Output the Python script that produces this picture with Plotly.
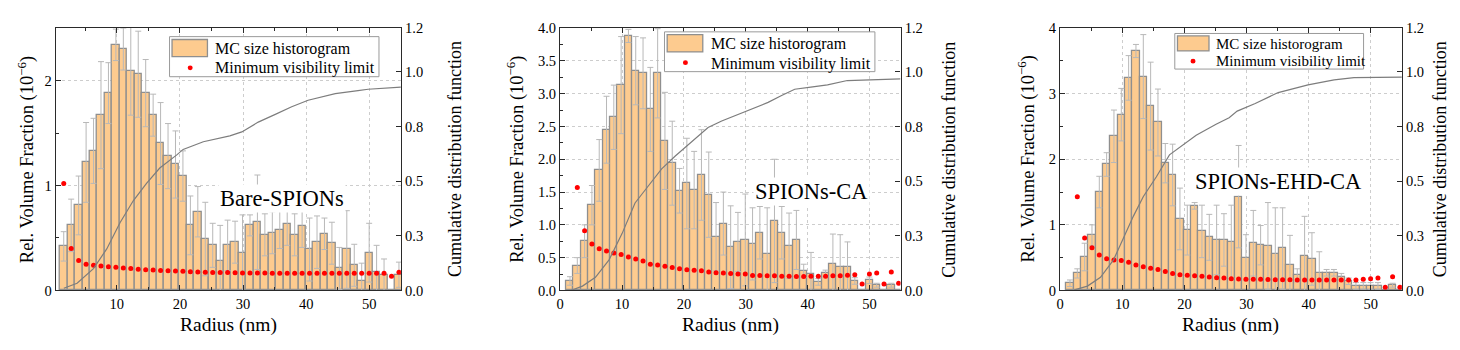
import plotly.graph_objects as go

# ---------------- data ----------------
radius = [1.59, 2.77, 3.95, 5.13, 6.31, 7.49, 8.67, 9.85, 11.03, 12.21, 13.39, 14.57,
          15.75, 16.93, 18.11, 19.29, 20.47, 21.65, 22.83, 24.01, 25.19, 26.37, 27.55,
          28.73, 29.91, 31.09, 32.27, 33.45, 34.63, 35.81, 36.99, 38.17, 39.35, 40.53,
          41.71, 42.89, 44.07, 45.25, 46.43, 47.61, 48.79, 49.97, 51.15, 52.33, 53.51, 54.69]

bare_vol = [0.42, 0.62, 0.81, 1.22, 1.33, 1.67, 1.88, 2.34, 2.30, 2.09, 2.06, 1.88, 1.67,
            1.40, 1.28, 1.20, 1.09, 0.62, 0.75, 0.49, 0.43, 0.28, 0.43, 0.46, 0.36, 0.62,
            0.65, 0.53, 0.55, 0.58, 0.63, 0.53, 0.61, 0.39, 0.46, 0.54, 0.45, 0.21, 0.39,
            0.24, 0.09, 0.36, 0.18, 0.15, 0.0, 0.15]
bare_err = [0.14, 0.25, 0.28, 0.38, 0.31, 0.51, 0.29, 0.15, 0.2, 0.42, 0.41, 0.32, 0.2,
            0.39, 0.31, 0.32, 0.24, 0.28, 0.24, 0.35, 0.21, 0.34, 0.24, 0.2, 0.36, 0.1,
            0.45, 0.2, 0.2, 0.18, 0.2, 0.2, 0.2, 0.3, 0.25, 0.15, 0.2, 0.2, 0.37, 0.2,
            0.17, 0.28, 0.25, 0.15, 0.0, 0.12]
bare_mvl = [1.02, 0.40, 0.285, 0.25, 0.24, 0.233, 0.227, 0.221, 0.215, 0.209, 0.203, 0.197,
            0.194, 0.19, 0.188, 0.185, 0.182, 0.179, 0.176, 0.173, 0.17, 0.17, 0.17, 0.168,
            0.167, 0.167, 0.166, 0.166, 0.165, 0.165, 0.165, 0.165, 0.164, 0.164, 0.164,
            0.164, 0.164, 0.163, 0.163, 0.163, 0.163, 0.163, 0.163, 0.163, 0.136, 0.173]
bare_cdf_r = [1.6, 3.7, 6.3, 8.4, 10.5, 12.6, 14.7, 16.8, 19.5, 20.5, 23.7, 27.9, 29.8,
              32.4, 35.1, 37.7, 40.3, 43.0, 44.6, 48.2, 49.8, 55.0]
bare_cdf = [0.01, 0.033, 0.10, 0.19, 0.31, 0.41, 0.49, 0.56, 0.62, 0.645, 0.68, 0.707,
            0.725, 0.77, 0.805, 0.84, 0.87, 0.89, 0.90, 0.914, 0.92, 0.93]

ca_vol = [0.145, 0.38, 0.75, 1.30, 1.83, 2.45, 2.64, 3.13, 3.88, 3.35, 3.31, 2.76, 3.31,
          2.28, 1.94, 1.52, 1.63, 1.53, 1.76, 1.46, 0.82, 1.02, 0.66, 0.74, 0.77, 0.71,
          0.88, 0.56, 1.06, 0.88, 0.68, 0.77, 0.30, 0.25, 0.13, 0.26, 0.41, 0.35, 0.36,
          0.145, 0.0, 0.155, 0.08, 0.0, 0.08, 0.0]
ca_err = [0.065, 0.12, 0.25, 0.3, 0.47, 0.51, 0.49, 0.74, 0.1, 0.52, 0.54, 0.64, 0.68,
          0.74, 0.64, 0.34, 0.69, 0.59, 0.69, 0.65, 0.52, 0.48, 0.63, 0.45, 0.7, 0.55,
          0.4, 0.7, 0.94, 0.4, 0.5, 0.45, 0.1, 0.33, 0.05, 0.05, 0.45, 0.5, 0.38, 0.05,
          0.0, 0.05, 0.03, 0.0, 0.03, 0.0]
ca_mvl = [None, 1.57, 0.91, 0.71, 0.635, 0.60, 0.57, 0.55, 0.51, 0.48, 0.45, 0.40, 0.39,
          0.37, 0.35, 0.33, 0.315, 0.31, 0.30, 0.28, 0.27, 0.267, 0.257, 0.25, 0.25, 0.23,
          0.228, 0.223, 0.223, 0.218, 0.218, 0.213, 0.213, 0.218, 0.218, 0.218, 0.223,
          0.223, 0.233, 0.238, 0.10, 0.25, 0.267, 0.10, 0.28, 0.11]
ca_cdf_r = [1.7, 3.6, 5.7, 7.9, 10.0, 12.1, 14.3, 16.4, 18.6, 20.7, 23.9, 26.1, 30.4,
            33.6, 35.7, 37.9, 40.5, 43.2, 46.4, 49.1, 55.0]
ca_cdf = [0.0, 0.02, 0.06, 0.14, 0.26, 0.40, 0.48, 0.556, 0.615, 0.665, 0.745, 0.775,
          0.825, 0.86, 0.89, 0.92, 0.93, 0.94, 0.96, 0.962, 0.968]

ehd_vol = [0.11, 0.26, 0.51, 0.84, 1.50, 1.92, 2.35, 2.68, 3.24, 3.65, 3.26, 2.81, 2.56,
           1.94, 1.76, 1.09, 0.92, 1.29, 0.90, 0.81, 0.77, 0.77, 0.74, 1.43, 0.50, 0.72,
           0.69, 0.68, 0.56, 0.64, 0.39, 0.23, 0.53, 0.48, 0.26, 0.27, 0.27, 0.21, 0.14,
           0.07, 0.07, 0.07, 0.07, 0.0, 0.08, 0.0]
ehd_err = [0.05, 0.07, 0.21, 0.16, 0.24, 0.18, 0.4, 0.4, 0.34, 0.1, 0.64, 0.67, 0.51,
           0.3, 0.47, 0.47, 0.38, 0.05, 0.4, 0.35, 0.53, 0.4, 0.56, 0.78, 0.35, 0.5, 0.3,
           0.66, 0.7, 0.62, 0.45, 0.1, 0.6, 0.4, 0.33, 0.05, 0.05, 0.05, 0.05, 0.05, 0.05,
           0.05, 0.05, 0.0, 0.03, 0.0]
ehd_mvl = [None, 1.43, 0.80, 0.65, 0.54, 0.485, 0.465, 0.455, 0.43, 0.39, 0.36, 0.34,
           0.32, 0.29, 0.26, 0.24, 0.233, 0.223, 0.218, 0.204, 0.194, 0.19, 0.18, 0.175,
           0.172, 0.17, 0.17, 0.168, 0.165, 0.163, 0.162, 0.16, 0.16, 0.16, 0.16, 0.16,
           0.16, 0.16, 0.16, 0.16, 0.17, 0.18, 0.19, 0.05, 0.21, 0.05]
ehd_cdf_r = [2.3, 4.4, 6.5, 8.6, 10.2, 11.8, 13.4, 15.5, 17.6, 19.8, 21.9, 25.1, 27.2,
             28.5, 31.4, 35.1, 39.9, 44.1, 47.3, 55.0]
ehd_cdf = [0.003, 0.02, 0.06, 0.14, 0.24, 0.34, 0.43, 0.52, 0.62, 0.665, 0.71, 0.76, 0.79,
           0.82, 0.855, 0.905, 0.94, 0.963, 0.973, 0.976]

labels = ["Bare-SPIONs", "SPIONs-CA", "SPIONs-EHD-CA"]
legend_names = ["MC size historogram", "Minimum visibility limit"]
right_ticks = [0, 0.25, 0.5, 0.75, 1.0, 1.2]
right_text = ["0.0", "0.3", "0.5", "0.8", "1.0", "1.2"]

# ---------------- styling ----------------
W, H = 1460, 350


def fx(px):
    return px / W


def fy(py):
    return 1 - py / H


FONT = "Liberation Serif, Times New Roman, serif"
BAR_FILL = "#FDCB8F"
BAR_LINE = "#8f8f8f"
ERR_COL = "#b8b8b8"
GRID = "#cdcdcd"
AX = "#2a2a2a"

panels = [
    dict(vol=bare_vol, err=bare_err, mvl=bare_mvl, cr=bare_cdf_r, cv=bare_cdf,
         px=(52, 398), xr=[0.34, 55], yr=[0, 2.5], ydt=1, ymin=0.5, yfmt="",
         lx=22, rx=452, lab=(279, 200),
         box=(166, 30, 376, 72), patch=(168.5, 33, 204, 51), dot=(186.7, 62.7),
         t1=(209.3, 42.7), t2=(209.3, 62.7), lfs=16),
    dict(vol=ca_vol, err=ca_err, mvl=ca_mvl, cr=ca_cdf_r, cv=ca_cdf,
         px=(557.7, 899), xr=[0, 55], yr=[0, 4], ydt=0.5, ymin=0.25, yfmt=".1f",
         lx=513, rx=948, lab=(810, 192),
         box=(662.3, 25, 873.3, 66.7), patch=(665, 28, 700.7, 46), dot=(683.3, 57.3),
         t1=(706.7, 37.7), t2=(706.7, 58.3), lfs=16),
    dict(vol=ehd_vol, err=ehd_err, mvl=ehd_mvl, cr=ehd_cdf_r, cv=ehd_cdf,
         px=(1059, 1401.7), xr=[0, 55], yr=[0, 4], ydt=1, ymin=0.5, yfmt="",
         lx=1025, rx=1440, lab=(1278, 182),
         box=(1174, 26.7, 1363.3, 64), patch=(1176.7, 29.3, 1208.3, 45), dot=(1192.3, 55.7),
         t1=(1213.3, 37.7), t2=(1213.3, 56), lfs=15),
]

top_px, bot_px = 21, 296
ydom = [fy(bot_px), fy(top_px)]

fig = go.Figure()
layout = dict(width=W, height=H, autosize=False, margin=dict(l=0, r=0, t=0, b=0, pad=0),
              paper_bgcolor="white", plot_bgcolor="white",
              font=dict(family=FONT, size=14.5, color="black"),
              barmode="overlay", bargap=0, showlegend=False)
annotations = []
shapes = []

for i, p in enumerate(panels):
    xs = "x" if i == 0 else f"x{i+1}"
    ya = "y" if i == 0 else f"y{2*i+1}"
    yb = f"y{2*i+2}"

    fig.add_trace(go.Bar(
        x=radius, y=p["vol"], width=1.18, xaxis=xs, yaxis=ya,
        name=legend_names[0],
        marker=dict(color=BAR_FILL, line=dict(color=BAR_LINE, width=1.3)),
        error_y=dict(type="data", array=p["err"], color=ERR_COL, thickness=1, width=3),
    ))
    fig.add_trace(go.Scatter(
        x=radius, y=p["mvl"], mode="markers", xaxis=xs, yaxis=ya,
        name=legend_names[1], marker=dict(color="#ff0000", size=5),
    ))
    fig.add_trace(go.Scatter(
        x=p["cr"], y=p["cv"], mode="lines", xaxis=xs, yaxis=yb,
        name="CDF", line=dict(color="#7d7d7d", width=1.2),
    ))

    xdom = [fx(p["px"][0]), fx(p["px"][1])]
    xkey = "xaxis" if i == 0 else f"xaxis{i+1}"
    yakey = "yaxis" if i == 0 else f"yaxis{2*i+1}"
    ybkey = f"yaxis{2*i+2}"

    layout[xkey] = dict(
        domain=xdom, anchor=ya, range=p["xr"], tick0=0, dtick=10,
        ticks="inside", ticklen=5, tickwidth=1.2, tickcolor=AX,
        showline=True, linecolor=AX, linewidth=1.4, mirror="ticks",
        showgrid=True, gridcolor=GRID, griddash="dot", gridwidth=1, zeroline=False,
        minor=dict(dtick=5, tick0=0, ticks="inside", ticklen=3, tickcolor=AX, showgrid=False),
        tickfont=dict(family=FONT, size=14.5),
    )
    layout[yakey] = dict(
        domain=ydom, anchor=xs, range=p["yr"], tick0=0, dtick=p["ydt"],
        tickformat=p["yfmt"],
        ticks="inside", ticklen=5, tickwidth=1.2, tickcolor=AX,
        showline=True, linecolor=AX, linewidth=1.4,
        showgrid=True, gridcolor=GRID, griddash="dot", gridwidth=1, zeroline=False,
        minor=dict(dtick=p["ymin"], tick0=0, ticks="inside", ticklen=3, tickcolor=AX, showgrid=False),
        tickfont=dict(family=FONT, size=14.5),
    )
    layout[ybkey] = dict(
        overlaying=ya, anchor=xs, side="right", range=[0, 1.2],
        tickmode="array", tickvals=right_ticks, ticktext=right_text,
        ticks="inside", ticklen=5, tickwidth=1.2, tickcolor=AX,
        showline=True, linecolor=AX, linewidth=1.4,
        showgrid=False, zeroline=False,
        tickfont=dict(family=FONT, size=14.5),
    )

    # legend box drawn in page pixels
    bx = p["box"]
    shapes.append(dict(type="rect", xref="paper", yref="paper", layer="above",
                       x0=fx(bx[0]), x1=fx(bx[2]), y0=fy(bx[3]), y1=fy(bx[1]),
                       fillcolor="white", line=dict(color="#9a9a9a", width=1)))
    pt = p["patch"]
    shapes.append(dict(type="rect", xref="paper", yref="paper", layer="above",
                       x0=fx(pt[0]), x1=fx(pt[2]), y0=fy(pt[3]), y1=fy(pt[1]),
                       fillcolor=BAR_FILL, line=dict(color=BAR_LINE, width=1.3)))
    d = p["dot"]
    shapes.append(dict(type="circle", xref="paper", yref="paper", layer="above",
                       x0=fx(d[0] - 2.5), x1=fx(d[0] + 2.5), y0=fy(d[1] + 2.5), y1=fy(d[1] - 2.5),
                       fillcolor="#ff0000", line=dict(width=0)))
    for name, t in zip(legend_names, (p["t1"], p["t2"])):
        annotations.append(dict(text=name, x=fx(t[0]), y=fy(t[1]), xref="paper", yref="paper",
                                xanchor="left", yanchor="middle", showarrow=False,
                                font=dict(family=FONT, size=p["lfs"])))

    xc = (xdom[0] + xdom[1]) / 2
    yc = (ydom[0] + ydom[1]) / 2
    annotations.append(dict(text="Radius (nm)", x=xc, y=fy(332), xref="paper", yref="paper",
                            xanchor="center", yanchor="middle",
                            showarrow=False, font=dict(family=FONT, size=19.5)))
    annotations.append(dict(text="Rel. Volume Fraction (10<sup>−6</sup>)", x=fx(p["lx"]),
                            y=yc, xref="paper", yref="paper", xanchor="center", yanchor="middle",
                            textangle=-90, showarrow=False, font=dict(family=FONT, size=18.5)))
    annotations.append(dict(text="Cumulative distribution function", x=fx(p["rx"]),
                            y=yc, xref="paper", yref="paper", xanchor="center", yanchor="middle",
                            textangle=-90, showarrow=False, font=dict(family=FONT, size=18)))
    annotations.append(dict(text=labels[i], x=fx(p["lab"][0]), y=fy(p["lab"][1]),
                            xref="paper", yref="paper", xanchor="center", yanchor="middle",
                            showarrow=False, bgcolor="white",
                            font=dict(family=FONT, size=22.5)))

layout["annotations"] = annotations
layout["shapes"] = shapes
fig.update_layout(**layout)
fig.write_html("out.html")
